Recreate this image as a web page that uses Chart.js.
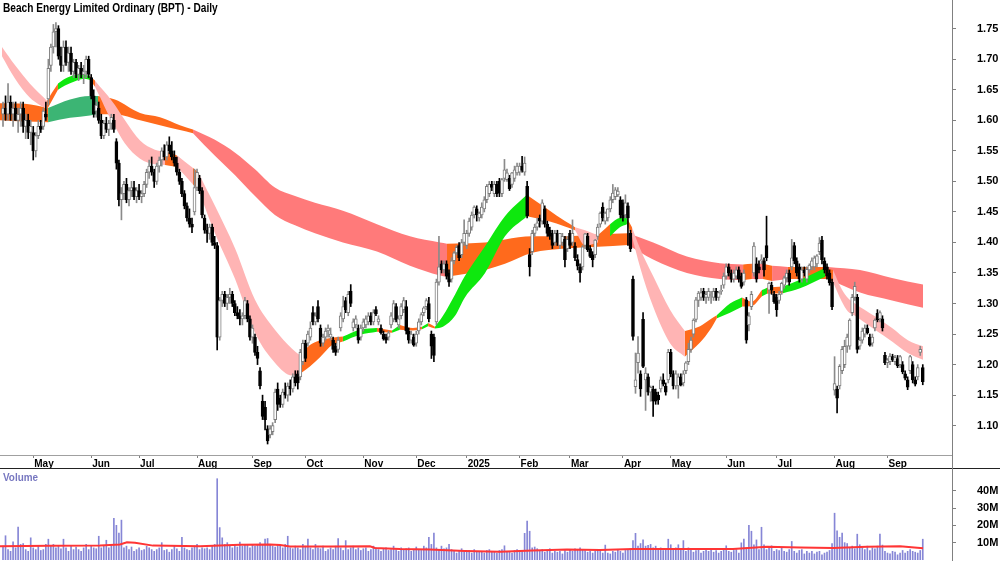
<!DOCTYPE html>
<html>
<head>
<meta charset="utf-8">
<script src="https://cdn.jsdelivr.net/npm/chart.js@4.4.1/dist/chart.umd.min.js"></script>
<style>
  html, body { margin: 0; padding: 0; background: #fff; }
  #wrap { position: relative; width: 1000px; height: 562px; overflow: hidden; font-family: "Liberation Sans", Arial, sans-serif; }
  #price { position: absolute; left: 0; top: 0; }
  #volume { position: absolute; left: 0; top: 469px; }
  #title { position: absolute; left: 3px; top: 1px; font-weight: bold; font-size: 12px; color: #000; white-space: nowrap; transform: scaleX(0.845); transform-origin: left top; }
  #vlabel { position: absolute; left: 3px; top: 471px; font-weight: bold; font-size: 11px; color: #7777c0; transform: scaleX(0.9); transform-origin: left top; }
  #sep { position: absolute; left: 0; top: 468px; width: 1000px; height: 1px; background: #222; }
  #gap { position: absolute; left: 952px; top: 455px; width: 1px; height: 14px; background: #808080; }
</style>
</head>
<body>
<div id="wrap">
  <canvas id="price" width="1000" height="468"></canvas>
  <canvas id="volume" width="1000" height="93"></canvas>
  <div id="sep"></div>
  <div id="gap"></div>
  <div id="title">Beach Energy Limited Ordinary (BPT) - Daily</div>
  <div id="vlabel">Volume</div>
</div>
<script>
// daily candles, prices in cents (mid Apr 2024 .. Sep 2025)
const openC = [
  161,162,161,163,161,162,160,161,162,159,
  160,158,158,155,157.5,159,159,161,163.5,169,
  172,174.5,175,170.5,169,172,169.5,171,168,169.5,
  167.5,168.5,167.5,168,170,167,164,161.5,162,160,
  157.5,159.5,158.5,159.5,160,156.5,153,147,148,149.5,
  147,148.5,149,147.5,148.5,147.5,148,149.5,151.5,152.5,
  151.5,150,152.5,153.5,155,154,156,155,154,153,
  151.5,150,148,146,144,143,145,149,150.5,148.5,
  144,142,141.5,142.5,140,139.5,124.5,130.5,131.5,130,
  131,131.5,130,128.5,128,127.5,128,130,127.5,124.5,
  124.5,122,119,114,113,109.5,108.5,109,111,116,
  114.5,113.5,115.5,115,116.5,116,118,118.5,118,120.5,
  123.5,123.5,124.5,128.5,127,129.5,126,123.5,124.5,125.5,
  124.5,124,123,122.5,126,127.5,130.5,128.5,132,126,
  126.5,126,124.5,126,126.5,127,128,127,129,127,
  126,125,124.5,124.5,126.5,127.5,129.5,126.5,128,129,
  129.5,125.5,124,124.5,123.5,125.5,127,128.5,129.5,130,
  125,124.5,127,133.5,136.5,135.5,136.5,135,134,137,
  138.3,139.5,138,140,139.5,141.5,142.5,144.5,145.5,144,
  144.5,145.5,147,148,149.5,148,149.5,150,148,150.5,
  150.3,150.5,149.5,150.5,151.4,151.5,152.5,151.5,149.2,138,
  138.5,141.5,142.5,144,143.5,145.5,143,142,141.5,140,
  141.5,139.5,140,140.5,139,141.5,140,139.4,137.2,136,
  136,139.5,141,139,138,138,141,143,145.8,143.5,
  144,145.5,147,147.5,147.8,147,146.5,144.5,146,141.5,
  134,116.4,120.3,118.5,127.4,117.5,118,115.5,116,115.5,
  115,116,117.5,116.5,117.5,122,118.5,116.5,116.5,118,
  117,119,120.5,122.5,125,127.4,130.5,131,132,131,
  131,131.3,131,132,131,132,133,134.5,136,135,
  134,134.5,135.5,134.5,133.5,130.6,126.5,129.5,135,136.5,
  136,137,137,139.5,132.2,133,131.5,131,130.5,132,
  133,134.2,135,136,139.5,137,136,134,135.5,134,
  135.5,136,136,136.5,138.5,140.4,137,136,135,133.5,
  115.8,116,116.5,119,120,123,123,128.5,131,131,
  123,124,125,126,124.5,123.5,126,128.4,127.5,127.5,
  121.5,120.3,120.5,121.3,120.5,121,120,120,118.5,117.5,
  119,120,117.5,118,122,119.5
];
const highC = [
  163,164,166,164,163,163,162,163,163,161,
  161,160,159,158,160,160,162,163,170,172.5,
  175.7,176,175.5,172,173,173,172,172,170,170,
  169,169.5,169,170.5,170.5,167.5,165,163,163,161,
  160,160.5,160,161,161,157,153.5,149,150,150.5,
  149,150,150,149,149.5,148.5,150,152,153.5,154,
  152,153,154,155.5,156,156.5,157.3,156.5,155,154,
  152,150.5,148.5,146.5,145.5,144,152,152,151,149,
  144.5,143,143,143,141,140,131,132,132,131.5,
  132.5,132,130.5,129.5,129,128.5,131,130.5,128,126.5,
  125,123,119.5,115,114,110,110,110.5,116,117,
  115,116,117,117,117.5,118.5,119,119,122.5,124,
  124,125.5,127,129.5,128.5,130.5,126.5,125,126,126.5,
  126,124.5,123.5,124.5,128.5,131.2,131,132,133.1,127.5,
  128,126.5,126.5,127.5,128,128.5,128.5,129,129.5,128,
  126.5,125.5,125,125.5,128.5,130.5,130,128,130,131,
  130.5,126,125.5,125,125.5,127.5,128.5,129.5,130.8,131,
  125.5,125,134,141,137,137,137,135.5,137.5,138.5,
  139.5,140,140.5,143.7,142,144,145,146,146,145,
  146.5,147.5,149.5,150,150,150,150,150.5,150.5,153.6,
  152,151,151.5,152.5,153,153,154.1,154,150,139,
  142,143,144,144.5,147,146,143.5,142.5,142,142,
  142,141.5,141.5,141,141,142,143.7,140,138,136.5,
  139.5,141.5,141.5,139.5,138.5,140.5,143,145,146.5,145,
  145.5,147.5,149.5,149,149,147.5,147,147.8,146.5,142,
  134.5,121.9,124.6,119,128.5,119.5,118.5,116.5,116.5,116,
  115.5,118,118.5,117,122.5,122.5,119,119,118.5,118.5,
  119,120.5,123.5,124.5,127.5,131,132,132.5,132.5,132,
  132.5,132,132.5,132.5,132,133,135,136.5,136.5,135.5,
  135.5,136,136,135,135.5,131,128.5,132,140,137.5,
  137,138,137.5,144.3,133.5,133.5,132,131.5,132,133.5,
  134.5,135.5,135.5,140.5,140,137.5,136.5,136,136,136,
  136.5,137.5,137.8,138,140.8,141,137.5,136.5,135.5,134,
  121.3,116.5,120,123,124,125,127.5,131.5,133.5,131.5,
  124.5,126,126.5,126.5,125,125,127.5,129,128.8,128,
  122,121,121.8,121.7,121.5,121.5,121.5,120.5,119,118,
  121.5,120.5,118,120,123,120
];
const lowC = [
  159,160,160,160,159,160,158,159,158,157,
  157,156,153.5,154,157,158,158.5,160,162.5,168,
  171,172,170,168,168,169,168,167.5,167,167,
  166.5,167,166,167,167,163.5,160.5,160.5,159.5,157,
  157,158,157.5,158.5,158,152,146,143.7,147,146.5,
  146,147.5,147,146.5,147,146.5,147.5,149,150.5,151,
  149,149.5,151.5,152.5,153.5,153.5,154.5,153.5,152.5,151,
  149.5,147.5,145.5,143.5,142.5,141.6,144.5,148.5,148,144,
  141.5,140,140.5,139.5,139,122.4,124,129.5,129.5,129,
  130,129.5,128,127.5,126.5,126.5,127.5,127,124,123.5,
  121.5,120,116,111,109.3,107,108,108.5,110.5,112.5,
  113,113,114.5,114,115,115.5,116.5,116,117.5,120,
  120.5,123,124,126.5,126.5,127,123,123,124,124.5,
  124,122,121.5,122,125.5,127,128.5,128,129.5,125.5,
  126,123.5,124,125.5,126,126.5,126.5,126.5,128,126.5,
  125,124,123.5,124,126,127,127,126,127.5,128.5,
  125,123.5,123.5,123,123,125,126.5,128,129,127,
  121,120.5,126.5,133,135,135,134,132.8,133.5,136.5,
  138,137,137.5,139.5,139,141,142,144,143.5,143.5,
  144,145,146.5,147.5,148.5,147.5,147.5,147.5,147.5,150,
  150,148.5,149,150,151,151,151.5,151,144,134.5,
  138,141,142,142.5,143,142.5,141,140.5,139,139.5,
  139.5,139,139.5,136,138.5,139,139.5,137,135.5,133.5,
  135.5,139,138.5,137.5,136,137.5,140.5,142.5,143.5,143,
  143.5,145,146.5,147,147.5,144,143.5,144,139.5,138.5,
  124,115.3,118.6,114.8,119.5,112.5,115,114,111.5,113.5,
  113.5,115.5,116.5,115,117,118,116,116,114.5,116.5,
  116.5,118.5,120,122,124.5,127,129.5,130.5,130.5,130,
  130.5,130,130.5,130.5,130.5,131.5,132.5,134,134.5,133.5,
  133.5,134,133.5,132.5,133,123.5,125.5,129,134.5,133.5,
  135,136.5,134.5,137,128.4,131.5,130,127.9,130,131.5,
  132.5,133.5,133,135.5,136.5,134.5,133.5,133.5,134.5,133.5,
  135,135.5,135.5,136,138,136.5,135,134,133,129,
  115,112.1,116,118.5,119.5,122,122.5,128,130.5,121.9,
  122.5,123.5,124.5,125,123,123,125.5,127,127,125.5,
  120,119.5,120,120.5,120,119.5,119.5,118.5,117.5,115.9,
  118.5,117,116.5,117.5,121.5,116.7
];
const closeC = [
  162,161,163,161,162,160,161,162,159,160,
  158,159,155,157.5,159,158.5,161.5,160.5,168.5,172,
  174.5,175,170.5,169,172,169.5,171,168,169.5,167.5,
  168.5,167.5,168,170,167.5,164,161,162.5,160,157.5,
  159.5,158.5,159.5,160.5,158.5,153,147,148,149.5,147,
  148.5,149,147.5,148.5,147.5,148,149.5,151.5,152.5,151.5,
  150,152.5,153.5,155,154,156,155,154,153,151.5,
  150,148,146,144,143,142.5,149,151.5,148.5,144.5,
  142,141.5,142.5,140,139.5,124.5,130.5,131.5,130,131,
  131.5,130,128.5,128,127.5,128,130.5,127.5,124.5,126,
  122,121,116.5,111.5,111,107.5,109.5,110,115.5,113.5,
  113.5,115.5,115,116.5,116,118,117,117,122,123.5,
  121,125,126,127,128,127.5,123.5,124.5,125.5,126,
  125,122.5,122,124,128,129.5,129,131.5,130,127,
  127.5,124,126,127,127.5,128,127,128.5,128.3,127.5,
  125.2,124.2,124,125.2,128,130,127.3,127.5,129.5,130.5,
  125.5,124,125,123.2,125,127,128.2,129.3,130.5,127.5,
  123,121.5,133.5,136,135.5,136.5,134.5,133.5,137,138.3,
  139.2,137.5,140,141.5,141.5,143.5,144.5,145.8,144.5,144.8,
  145.8,147,149.2,149.5,149,149.5,148,148.1,150.3,151.9,
  151.4,148.8,151.4,151.9,152.5,152.5,151.8,153,144.4,136,
  141.5,142.5,143.2,143.5,146.5,143,141.5,141,139.5,141.5,
  140,141.5,141,137.2,140.5,139.5,141.5,137.5,136.1,135,
  139.3,141.4,138.8,137.7,137.2,140.4,142.5,144.8,144,144.8,
  145.5,147,148.1,148.6,148.4,144.5,144,146.5,144,139,
  124.6,117.5,121.9,116,119.7,118.6,115.5,116.3,114,114,
  114.2,117.5,116.8,115.5,122,118.5,116.5,118.5,118,116.7,
  118.5,120.3,122.5,124,127.3,130.6,131.7,131.8,131,131.5,
  132,131.5,132,131,131.8,132,134.5,136,135,134,
  135,135.5,134,132.8,135,124,128,131.5,139.4,134,
  135.5,137.2,135.5,137.5,133.3,132.2,130.3,129,131.5,133.3,
  134.2,135,133.5,137.5,137,135,134,135.5,135,135.6,
  136.3,137,137.5,137.8,139.9,137.2,135.5,134.5,133.4,129.5,
  116.9,114.5,119.7,122.5,123,124.5,127.3,131,132.8,122.5,
  124,125.5,126,125.2,123.2,124.5,127.3,127.3,128.5,126,
  120.3,120.8,121.4,120.8,121.2,119.8,121.3,118.8,117.8,116.3,
  121.3,117.5,116.8,119.5,122.5,117.2
];
// daily volume, millions of shares
const volumeM = [
  8,14,6,5,10.5,7,19,9,9.5,6,
  5,12.8,7,6,8,5.5,6,9,12,8,
  9,7,8,6.5,12,7,5,8,6,7.5,
  6,5,7,9,6,8,7,6.5,13.7,7,
  8,11.4,7,9,24,20,15.6,23,7,8,
  6,7.5,5,6,7,5.5,6,8,7,6,
  5,6,7,10,5.5,6,4.5,6,8,6.5,
  5,13.1,7,6,5.5,7,8,9,6,7,
  6.5,7,6,8,9,46.9,18.7,12.8,9,10,
  8,7,9,7.5,10.3,8,9,8.5,7,9,
  8,9,10,8.5,12,12.4,9,8,7.5,9,
  8,7,9,13.7,7,6.5,8,7,6,9,
  8,12,7,6,9,7,6.5,8,5,6,
  7,6,8,12.4,7,5.5,11.2,6,7,8,
  6,7,5.5,6.5,7,5,6,8,7,6,
  5,6.5,7,5.5,6,8,6,5,7,6,
  6.5,7,5,6,7.5,6,5.5,8,7,13.1,
  9,15.6,7,6,8,6.5,7,9,6,5.5,
  4,5,6.5,5,4.5,5.5,4,6,5,4.5,
  5,4,5.5,6,4.5,5,4,5.5,6,8.2,
  4.5,5,4,5.5,6,4.5,5,15.4,22.5,16.6,
  7,7.5,6.5,5,6,4.5,5,6.5,4,5,
  4.5,5,3.5,5.5,4.5,6,5,6.5,6,7,
  6,5.5,4.5,5,4,5,6,5.5,4,8.6,
  4,3.5,5,4.5,6,5,4,5.5,6,6.5,
  11.2,15.4,8,9.5,11.6,8,8.5,9,7,8,
  6,7,5.5,6.5,12,8.8,6,7,8.8,6,
  11.2,5,7,6,4.5,5.5,6,4,5,6.5,
  5,6,4.5,5.5,4,5,6,8.2,5,4.5,
  5.5,6,4,9.9,12,7,20,16.6,8.8,11.6,
  6,18.9,8.8,6,7,8.2,5,6,5.5,7,
  5,4.5,6,10.7,5,4,5.5,6,3.5,5,
  4,5,3.5,4.5,5,3,4,4.5,5.5,9.5,
  27,16.8,13.1,15.6,10,9.5,7,8,6.5,14.9,
  8.8,7,6,8,5.5,7,6.5,8,14.9,8.6,
  5,4,3.5,5,4.5,3,4,5.5,4,5,
  6,5,4.5,4,5.5,12
];

// volume average line, read at sample days
const volAvgDay = [-1.2, 18.7, 38.5, 46.4, 49.2, 52.4, 59.5, 78.2, 94, 106, 110, 113.9, 129.8, 145.6, 147.6, 157.5, 169.4, 183.3, 197.2, 210.3, 223.8, 236.9, 250, 269.8, 289.7, 303.2, 316.3, 329.4, 342.9, 356, 365.1];
const volAvgM   = [8.0, 8.2, 8.3, 9.0, 10.2, 10.0, 8.3, 8.0, 8.8, 9.0, 8.6, 7.8, 7.8, 7.9, 6.9, 6.3, 6.0, 5.2, 4.8, 5.5, 6.0, 5.7, 6.3, 6.4, 6.3, 7.6, 7.2, 6.9, 7.6, 7.9, 6.8];

// short-term average ribbon: day, upper, lower, trend of the stretch that starts there
const shortDay = [-0.4, 4.8, 10.7, 17.5, 19.4, 21.8, 24.6, 28.6, 32.5, 34.5, 36.5, 38.5, 41.7, 44.4, 48.4, 54.4, 60.3, 64.3, 69.0, 75.4, 77.4, 84.1, 92.1, 100, 107.9, 114.7, 117.9, 121.8, 125.8, 130.6, 134.9, 141.7, 148.4, 154.4, 157.5, 162.7, 166.3, 168.7, 171.4, 174.6, 179.4, 183.3, 191.3, 199.2, 207.9, 216.3, 223, 227, 231, 236.1, 240.9, 244.8, 247.6, 249.6, 252.8, 258, 264.7, 270.6, 276.6, 280.6, 283.3, 288.5, 293.3, 297.2, 301.2, 303.2, 309.5, 316.3, 326.2, 329.4, 332.9, 335.3, 338.1, 346, 352.8, 359.1, 365.1];
const shortHi = [1.720, 1.690, 1.660, 1.632, 1.645, 1.660, 1.668, 1.674, 1.675, 1.672, 1.665, 1.655, 1.640, 1.625, 1.600, 1.567, 1.552, 1.549, 1.543, 1.522, 1.515, 1.460, 1.390, 1.306, 1.257, 1.226, 1.215, 1.232, 1.240, 1.244, 1.246, 1.257, 1.260, 1.256, 1.265, 1.260, 1.262, 1.268, 1.262, 1.280, 1.315, 1.345, 1.394, 1.443, 1.478, 1.454, 1.435, 1.425, 1.420, 1.412, 1.430, 1.440, 1.440, 1.425, 1.390, 1.345, 1.290, 1.255, 1.263, 1.274, 1.281, 1.300, 1.310, 1.303, 1.322, 1.326, 1.328, 1.339, 1.358, 1.355, 1.323, 1.309, 1.300, 1.279, 1.260, 1.240, 1.230];
const shortLo = [1.705, 1.668, 1.637, 1.618, 1.632, 1.650, 1.657, 1.664, 1.668, 1.666, 1.655, 1.638, 1.610, 1.590, 1.562, 1.537, 1.528, 1.527, 1.524, 1.495, 1.488, 1.415, 1.340, 1.252, 1.203, 1.182, 1.185, 1.197, 1.212, 1.232, 1.238, 1.249, 1.254, 1.252, 1.257, 1.256, 1.258, 1.263, 1.259, 1.262, 1.280, 1.310, 1.350, 1.410, 1.443, 1.435, 1.426, 1.420, 1.395, 1.400, 1.410, 1.425, 1.430, 1.410, 1.360, 1.295, 1.235, 1.213, 1.236, 1.257, 1.276, 1.285, 1.295, 1.296, 1.312, 1.316, 1.317, 1.325, 1.344, 1.335, 1.303, 1.287, 1.280, 1.257, 1.238, 1.219, 1.208];
const shortTrend = ['dn','dn','dn','mx','mx','up','up','up','up','mx','dn','dn','dn','dn','dn','dn','dn','mx','dn','mx','dn','dn','dn','dn','dn','dn','mx','mx','mx','mx','up','up','mx','up','mx','mx','up','mx','up','up','up','up','up','up','mx','mx','mx','dn','dn','mx','up','up','mx','dn','dn','dn','dn','mx','mx','mx','up','up','mx','mx','up','mx','up','up','mx','dn','dn','dn','dn','dn','dn','dn','dn'];

// long-term average ribbon
const longDay = [-1.2, 8.7, 17.9, 26.6, 34.5, 37.7, 44.4, 54.4, 62.3, 70.2, 75.4, 84.1, 92.1, 100, 107.9, 115.9, 123.8, 134.9, 148.4, 161.5, 173.4, 176.2, 191.3, 199.2, 210, 223, 236.1, 248, 258, 271.4, 284.5, 293.7, 297.2, 301.6, 305.2, 311.5, 327.4, 340.1, 352.8, 365.1];
const longHi = [1.628, 1.627, 1.620, 1.634, 1.640, 1.640, 1.634, 1.612, 1.605, 1.592, 1.585, 1.568, 1.547, 1.520, 1.490, 1.476, 1.465, 1.452, 1.430, 1.410, 1.400, 1.398, 1.400, 1.405, 1.410, 1.410, 1.413, 1.415, 1.400, 1.377, 1.366, 1.364, 1.365, 1.365, 1.362, 1.360, 1.360, 1.355, 1.342, 1.331];
const longLo = [1.600, 1.598, 1.597, 1.604, 1.608, 1.610, 1.610, 1.600, 1.592, 1.584, 1.579, 1.542, 1.510, 1.476, 1.445, 1.428, 1.415, 1.400, 1.385, 1.362, 1.346, 1.344, 1.355, 1.365, 1.383, 1.390, 1.393, 1.396, 1.372, 1.350, 1.340, 1.338, 1.340, 1.340, 1.337, 1.340, 1.340, 1.318, 1.305, 1.293];
const longTrend = ['mx','mx','up','up','up','mx','mx','mx','mx','mx','dn','dn','dn','dn','dn','dn','dn','dn','dn','dn','dn','mx','mx','mx','mx','mx','mx','dn','dn','dn','dn','mx','dn','mx','dn','mx','dn','dn','dn','dn'];

const monthDay = [12, 35, 54, 77, 99, 120, 143, 164, 184, 205, 225, 246, 265, 287, 307, 330, 351];
const monthLabels = ['May', 'Jun', 'Jul', 'Aug', 'Sep', 'Oct', 'Nov', 'Dec', '2025', 'Feb', 'Mar', 'Apr', 'May', 'Jun', 'Jul', 'Aug', 'Sep'];
const priceTicks = [1.10, 1.15, 1.20, 1.25, 1.30, 1.35, 1.40, 1.45, 1.50, 1.55, 1.60, 1.65, 1.70, 1.75];
const volumeTicks = [10, 20, 30, 40];

const FONT = '"Liberation Sans", Arial, sans-serif';
const X_MIN = -1.19, X_MAX = 376.6;

const shortColors = { dn: '#ffb4b4', mx: '#ff6a1c', up: '#0ee80e' };
const longColors = { dn: '#ff7a7a', mx: '#ff6a1c', up: '#3cb574' };

function ribbon(days, hi, lo, trend, colors, order) {
  const sets = [];
  let k = 0;
  while (k < days.length - 1) {
    let e = k + 1;
    while (e < days.length - 1 && trend[e] === trend[k]) e++;
    const top = [], bot = [];
    for (let j = k; j <= e; j++) {
      top.push({ x: days[j], y: hi[j] });
      bot.push({ x: days[j], y: lo[j] });
    }
    const common = { type: 'line', pointRadius: 0, borderWidth: 0, borderColor: 'rgba(0,0,0,0)', cubicInterpolationMode: 'monotone', order };
    sets.push({ ...common, data: top, fill: '+1', backgroundColor: colors[trend[k]] });
    sets.push({ ...common, data: bot, fill: false });
    k = e;
  }
  return sets;
}

const days = closeC.map((_, i) => i);
const isUp = i => closeC[i] >= openC[i];

const wicks = {
  type: 'bar', grouped: false, order: 1, barThickness: 1, minBarLength: 1,
  data: days.map(i => ({ x: i, y: [Math.min(lowC[i], openC[i], closeC[i]) / 100, Math.max(highC[i], openC[i], closeC[i]) / 100] })),
  backgroundColor: days.map(i => isUp(i) ? '#8a8a8a' : '#000'),
};
const bodies = {
  type: 'bar', grouped: false, order: 0, barThickness: 3, minBarLength: 1,
  borderWidth: 1, borderSkipped: false,
  data: days.map(i => ({ x: i, y: [openC[i] / 100, closeC[i] / 100] })),
  backgroundColor: days.map(i => isUp(i) ? '#ffffff' : '#000'),
  borderColor: days.map(i => isUp(i) ? '#7c7c7c' : '#000'),
};

function xAxis(show) {
  return {
    type: 'linear', min: X_MIN, max: X_MAX, offset: false, display: show,
    grid: { display: true, drawOnChartArea: false, drawTicks: true, tickLength: 3, color: '#808080', offset: false },
    border: { display: true, color: '#a0a0a0' },
    ticks: {
      autoSkip: false, maxRotation: 0, align: 'start', labelOffset: 1, padding: 0, color: '#000',
      font: { family: FONT, size: 10, weight: 'bold' },
      callback: (v, i) => monthLabels[i],
    },
    afterBuildTicks: s => { s.ticks = monthDay.map(v => ({ value: v })); },
    afterFit: s => { s.height = show ? 13 : 0; s.paddingLeft = 0; s.paddingRight = 0; },
  };
}

function yAxis(min, max, ticks, fmt) {
  return {
    position: 'right', min, max,
    grid: { display: true, drawOnChartArea: false, drawTicks: true, tickLength: 4, color: '#808080' },
    border: { display: true, color: '#808080' },
    ticks: { padding: 21, color: '#000', font: { family: FONT, size: 11, weight: 'bold' }, callback: fmt },
    afterBuildTicks: s => { s.ticks = ticks.map(v => ({ value: v })); },
    afterFit: s => { s.width = 48; s.paddingTop = 0; s.paddingBottom = 0; },
  };
}

const common = {
  responsive: false, animation: false, events: [],
  layout: { padding: 0 },
  plugins: { legend: { display: false }, tooltip: { enabled: false } },
};

new Chart(document.getElementById('price'), {
  type: 'bar',
  data: {
    datasets: [
      ...ribbon(longDay, longHi, longLo, longTrend, longColors, 3),
      ...ribbon(shortDay, shortHi, shortLo, shortTrend, shortColors, 2),
      wicks,
      bodies,
    ],
  },
  options: {
    ...common,
    scales: {
      x: xAxis(true),
      y: yAxis(1.052, 1.797, priceTicks, v => v.toFixed(2)),
    },
  },
});

new Chart(document.getElementById('volume'), {
  type: 'bar',
  data: {
    datasets: [
      {
        type: 'line', order: 0, pointRadius: 0, borderWidth: 2, borderColor: '#ff3535',
        data: volAvgDay.map((d, i) => ({ x: d, y: volAvgM[i] })),
      },
      {
        type: 'bar', order: 1, barThickness: 1, grouped: false,
        backgroundColor: '#8686d6',
        data: days.map(i => ({ x: i, y: volumeM[i] })),
      },
    ],
  },
  options: {
    ...common,
    layout: { padding: { bottom: 2 } },
    scales: {
      x: xAxis(false),
      y: yAxis(0, 52.5, volumeTicks, v => v + 'M'),
    },
  },
});
</script>
</body>
</html>
